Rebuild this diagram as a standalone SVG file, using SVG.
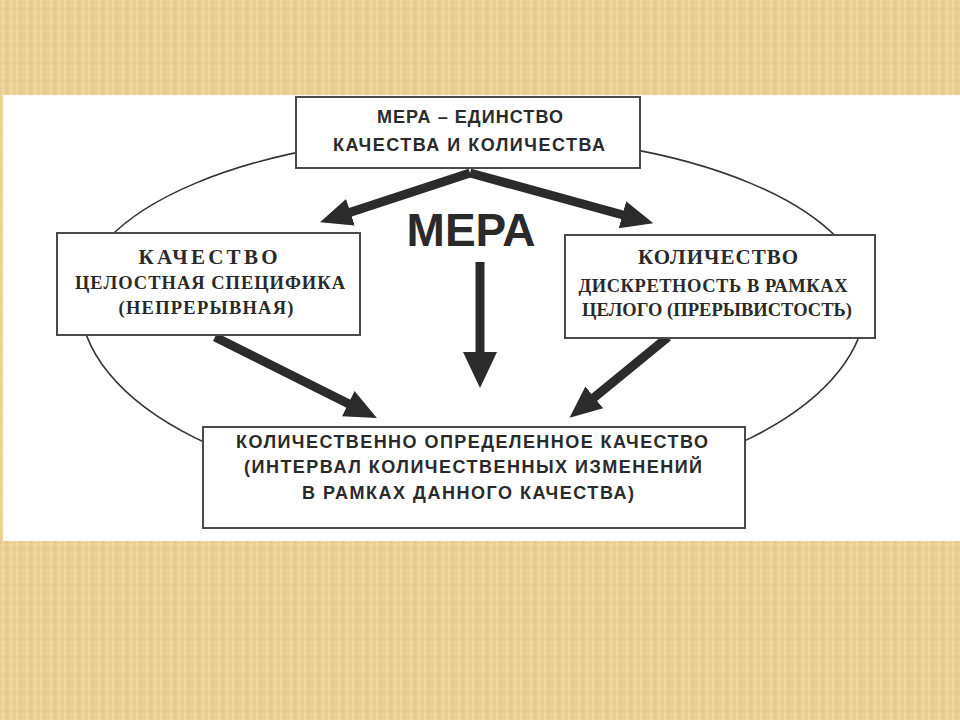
<svg xmlns="http://www.w3.org/2000/svg" width="960" height="720" viewBox="0 0 960 720">
  <defs>
    <pattern id="papyrus" width="24" height="18" patternUnits="userSpaceOnUse">
      <rect width="24" height="18" fill="#EBCF92"/>
      <path d="M3 0V18M11 0V18M17 0V18" stroke="#F4E2B4" stroke-width="1.2" opacity="0.7"/>
      <path d="M7 0V18M21 0V18" stroke="#D9B877" stroke-width="0.8" opacity="0.6"/>
      <path d="M0 5H24M0 13H24" stroke="#F2DDAA" stroke-width="1" opacity="0.6"/>
      <path d="M0 9H24" stroke="#DCBD7E" stroke-width="0.6" opacity="0.5"/>
    </pattern>
    <marker id="head" viewBox="0 0 32 32" markerUnits="userSpaceOnUse" markerWidth="32" markerHeight="32" refX="12" refY="16" orient="auto">
      <path d="M0 2 L32 16 L0 30 Z" fill="#2b2b2b"/>
    </marker>
    <marker id="headBig" viewBox="0 0 36 36" markerUnits="userSpaceOnUse" markerWidth="36" markerHeight="36" refX="16" refY="18" orient="auto">
      <path d="M0 1 L36 18 L0 35 Z" fill="#2b2b2b"/>
    </marker>
  </defs>
  <style>
    .box { fill: #ffffff; stroke: #4a4a4a; stroke-width: 2; }
    .sans { font-family: "Liberation Sans", Arial, sans-serif; font-weight: bold; fill: #2a2a2a; text-anchor: middle; font-size: 18px; }
    .serif { font-family: "Liberation Serif", "Times New Roman", serif; font-weight: bold; fill: #2a2a2a; text-anchor: middle; font-size: 18.5px; }
    .title { font-size: 21px; }
    .arrow { stroke: #2b2b2b; stroke-width: 9; fill: none; marker-end: url(#head); }
  </style>

  <rect width="960" height="720" fill="url(#papyrus)"/>
  <rect x="3" y="95" width="957" height="446" fill="#ffffff"/>

  <path id="ellipse" d="M 80 300 A 393 165 0 0 1 866 300 A 393 195 0 0 1 80 300 Z" fill="#ffffff" stroke="#333333" stroke-width="1.6"/>

  <g id="connectors">
    <line class="arrow" x1="470" y1="173" x2="339" y2="216"/>
    <line class="arrow" x1="470" y1="173" x2="634" y2="218"/>
    <line class="arrow" x1="215" y1="337" x2="359" y2="409"/>
    <line class="arrow" x1="668" y1="337" x2="585" y2="405"/>
    <line x1="480" y1="262" x2="480" y2="368" stroke="#2b2b2b" stroke-width="9" marker-end="url(#headBig)"/>
  </g>

  <g id="top">
    <rect class="box" x="296" y="97" width="344" height="71"/>
    <text class="sans" x="470" y="123" textLength="186" lengthAdjust="spacing">МЕРА – ЕДИНСТВО</text>
    <text class="sans" x="469" y="151" textLength="272" lengthAdjust="spacing">КАЧЕСТВА И КОЛИЧЕСТВА</text>
  </g>

  <g id="mera">
    <text class="sans" x="471" y="246" style="font-size:46px">МЕРА</text>
  </g>

  <g id="quality">
    <rect class="box" x="57" y="233" width="303" height="102"/>
    <text class="serif title" x="208" y="264" textLength="139" lengthAdjust="spacing">КАЧЕСТВО</text>
    <text class="serif" x="210" y="289" textLength="270" lengthAdjust="spacing">ЦЕЛОСТНАЯ СПЕЦИФИКА</text>
    <text class="serif" x="206" y="314" textLength="175" lengthAdjust="spacing">(НЕПРЕРЫВНАЯ)</text>
  </g>

  <g id="quantity">
    <rect class="box" x="565" y="235" width="310" height="103"/>
    <text class="serif title" x="718" y="264" textLength="160" lengthAdjust="spacing">КОЛИЧЕСТВО</text>
    <text class="serif" x="713" y="292" textLength="269" lengthAdjust="spacing">ДИСКРЕТНОСТЬ В РАМКАХ</text>
    <text class="serif" x="717" y="316" textLength="270" lengthAdjust="spacing">ЦЕЛОГО (ПРЕРЫВИСТОСТЬ)</text>
  </g>

  <g id="measure">
    <rect class="box" x="203" y="427" width="542" height="101"/>
    <text class="sans" x="472" y="448" textLength="472" lengthAdjust="spacing">КОЛИЧЕСТВЕННО ОПРЕДЕЛЕННОЕ КАЧЕСТВО</text>
    <text class="sans" x="473" y="473" textLength="458" lengthAdjust="spacing">(ИНТЕРВАЛ КОЛИЧЕСТВЕННЫХ ИЗМЕНЕНИЙ</text>
    <text class="sans" x="468" y="499" textLength="332" lengthAdjust="spacing">В РАМКАХ ДАННОГО КАЧЕСТВА)</text>
  </g>
</svg>
